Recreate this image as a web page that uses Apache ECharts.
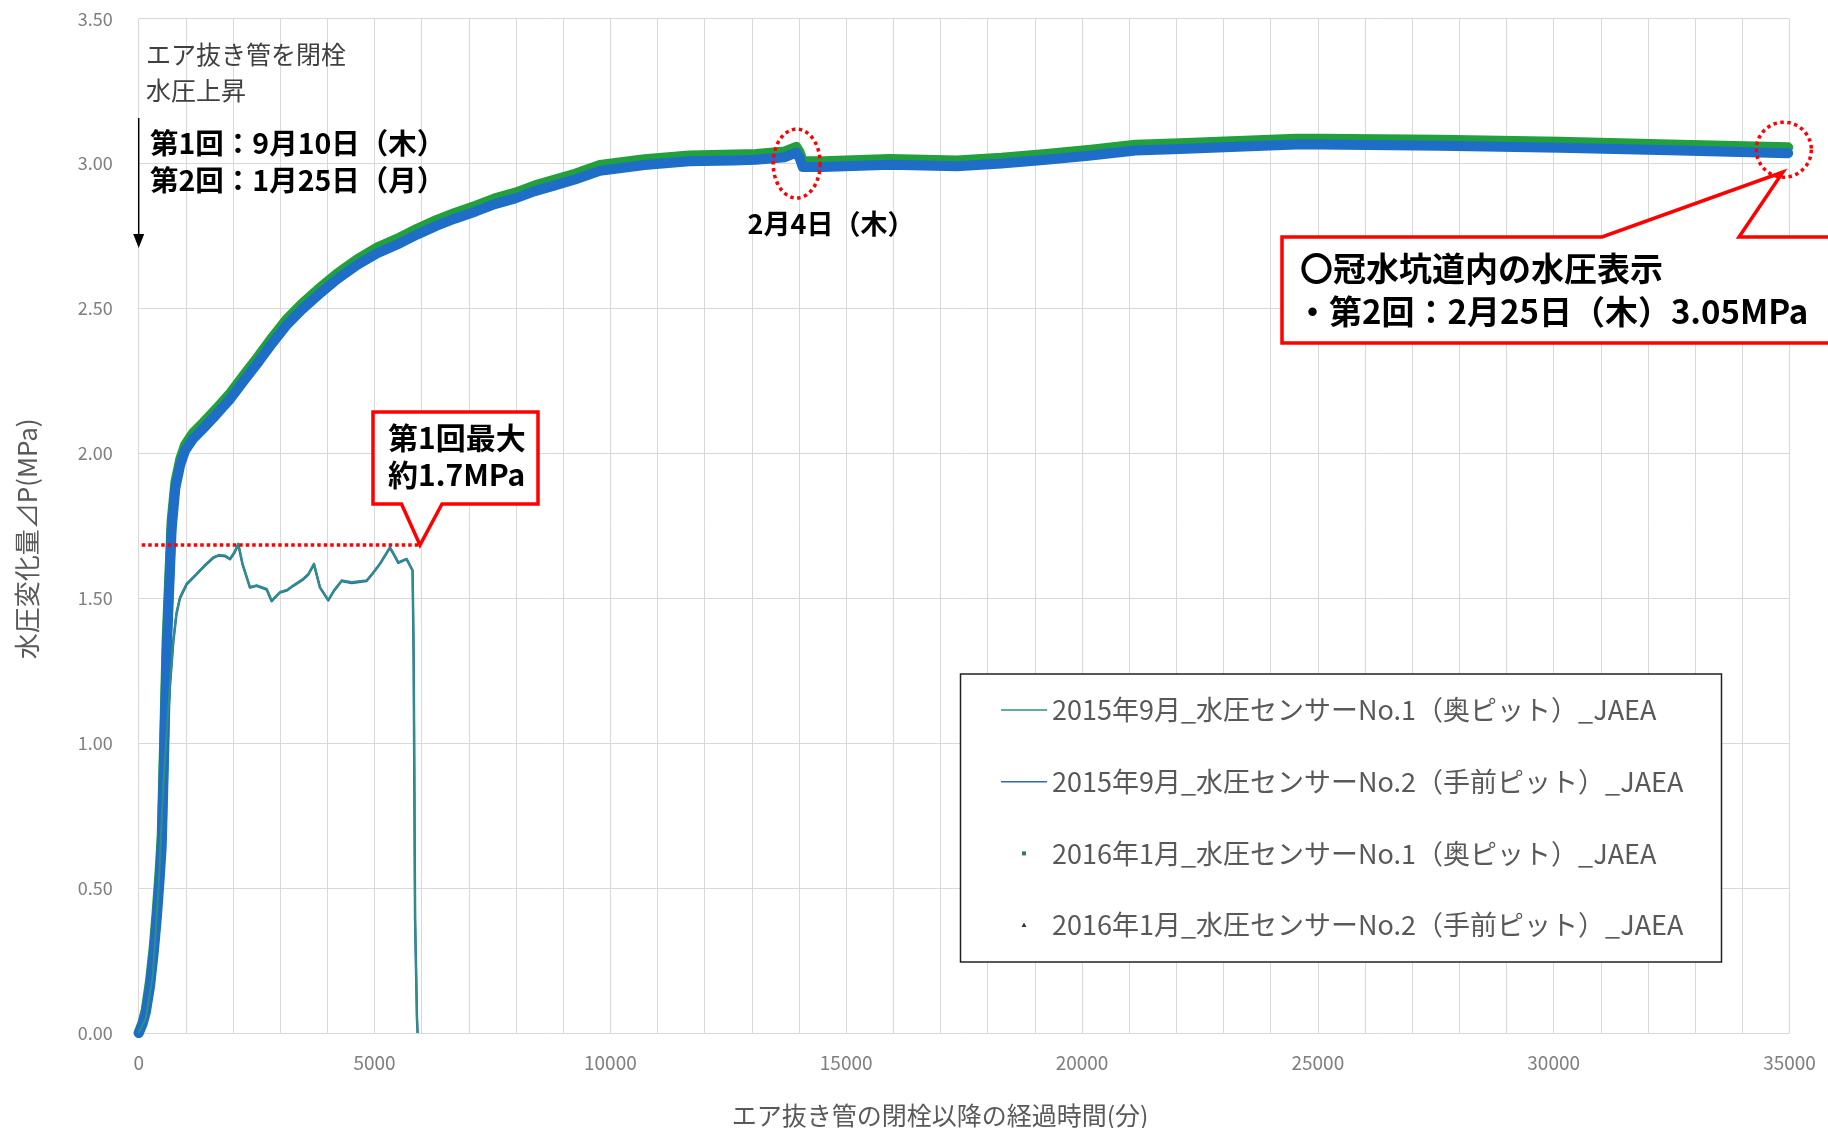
<!DOCTYPE html>
<html>
<head>
<meta charset="utf-8">
<script src="https://cdn.jsdelivr.net/npm/echarts@6.0.0/dist/echarts.min.js"></script>
<style>
  html, body { margin: 0; padding: 0; background: #fff; }
  #chart { width: 1828px; height: 1128px; }
</style>
</head>
<body>
<div id="chart"></div>
<script>
// 第1回 2015年9月 (分, MPa)
const sep2015Minutes = [0, 150, 300, 420, 520, 600, 660, 734, 800, 875, 1017, 1229, 1400, 1582, 1700, 1829, 1935, 2030, 2111, 2200, 2359, 2500, 2713, 2819, 2995, 3150, 3277, 3489, 3600, 3716, 3843, 4019, 4150, 4303, 4515, 4833, 4950, 5114, 5326, 5420, 5503, 5680, 5807, 5830, 5860, 5900, 5913]
const sep2015No1 = [0, 0.05, 0.2, 0.5, 0.85, 1.05, 1.2, 1.355, 1.45, 1.505, 1.551, 1.585, 1.615, 1.642, 1.65, 1.648, 1.637, 1.66, 1.689, 1.62, 1.539, 1.545, 1.533, 1.493, 1.522, 1.53, 1.545, 1.568, 1.585, 1.62, 1.539, 1.495, 1.53, 1.562, 1.556, 1.562, 1.585, 1.62, 1.677, 1.65, 1.625, 1.637, 1.597, 1.3, 0.4, 0.05, 0]
const sep2015No2 = [0, 0.05, 0.21, 0.5, 0.84, 1.04, 1.19, 1.35, 1.445, 1.5, 1.548, 1.583, 1.612, 1.64, 1.648, 1.645, 1.635, 1.657, 1.686, 1.618, 1.537, 1.543, 1.53, 1.49, 1.52, 1.528, 1.543, 1.565, 1.583, 1.617, 1.537, 1.493, 1.528, 1.56, 1.553, 1.56, 1.583, 1.618, 1.674, 1.648, 1.622, 1.635, 1.595, 1.29, 0.39, 0.05, 0]

// 第2回 2016年1月 (分, MPa)
const jan2016Minutes = [0, 80, 150, 240, 320, 381, 440, 487, 522, 557, 593, 649, 699, 777, 880, 985, 1150, 1363, 1650, 1950, 2250, 2537, 2830, 3122, 3450, 3794, 4200, 4631, 5050, 5471, 5900, 6308, 6700, 7147, 7550, 7985, 8400, 8824, 9250, 9777, 10723, 11670, 12618, 13090, 13700, 13940, 14010, 14080, 14508, 15928, 17346, 18294, 19240, 20185, 21132, 22079, 23026, 24538, 25038, 27588, 30133, 32681, 34972]
const jan2016No1 = [0, 0.035, 0.08, 0.18, 0.3, 0.42, 0.55, 0.68, 0.9, 1.13, 1.36, 1.58, 1.77, 1.9, 1.98, 2.03, 2.07, 2.105, 2.155, 2.21, 2.275, 2.335, 2.4, 2.46, 2.515, 2.565, 2.62, 2.67, 2.71, 2.74, 2.775, 2.805, 2.83, 2.855, 2.88, 2.9, 2.925, 2.945, 2.965, 2.995, 3.015, 3.028, 3.031, 3.033, 3.042, 3.058, 3.04, 3.008, 3.008, 3.016, 3.011, 3.02, 3.033, 3.048, 3.065, 3.07, 3.076, 3.086, 3.086, 3.082, 3.075, 3.065, 3.056]
const jan2016No2 = [0, 0.03, 0.07, 0.16, 0.28, 0.39, 0.52, 0.64, 0.85, 1.08, 1.31, 1.54, 1.74, 1.88, 1.96, 2.01, 2.05, 2.085, 2.135, 2.19, 2.255, 2.315, 2.38, 2.44, 2.495, 2.545, 2.6, 2.65, 2.69, 2.72, 2.755, 2.785, 2.81, 2.835, 2.86, 2.88, 2.905, 2.925, 2.945, 2.975, 2.995, 3.008, 3.011, 3.013, 3.022, 3.038, 3.02, 2.988, 2.988, 2.996, 2.991, 3.0, 3.013, 3.028, 3.045, 3.05, 3.056, 3.066, 3.066, 3.062, 3.055, 3.045, 3.036]

const seriesNames = [
  '2015年9月_水圧センサーNo.1（奥ピット）_JAEA',
  '2015年9月_水圧センサーNo.2（手前ピット）_JAEA',
  '2016年1月_水圧センサーNo.1（奥ピット）_JAEA',
  '2016年1月_水圧センサーNo.2（手前ピット）_JAEA'
]
const xMax = 35000
const xStep = 5000
const yMax = 3.5
const yStep = 0.5
const firstMaxMpa = 1.685
const firstMaxRange = [64, 5962]
const dipMark = [13950, 3.0]
const endMark = [34880, 3.048]

const FONT = '"Noto Sans CJK JP", "Noto Sans", sans-serif'
const RED = '#FF0000'
const C15_1 = '#2E8F88'
const C15_2 = '#2F6DA8'
const C16_1 = '#22A03E'
const C16_2 = '#1E6EC8'

function pairs(xs, ys) {
  return xs.map((x, i) => [x, ys[i]])
}

const chart = echarts.init(document.getElementById('chart'), null, { renderer: 'canvas' })

function band(name, xs, ys, color) {
  return {
    name, type: 'line', data: pairs(xs, ys), showSymbol: false, symbol: 'none', z: 2,
    lineStyle: { color, width: 10, join: 'round', cap: 'round' },
    itemStyle: { color }
  }
}

function thin(name, xs, ys, color, width, z) {
  return {
    name, type: 'line', data: pairs(xs, ys), showSymbol: false, symbol: 'none', z,
    lineStyle: { color, width, join: 'round' },
    itemStyle: { color }
  }
}

const s15a = thin(seriesNames[0], sep2015Minutes, sep2015No1, C15_1, 2, 4)
s15a.markLine = {
  silent: true, symbol: 'none', animation: false,
  label: { show: false },
  lineStyle: { color: RED, width: 3.5, type: [3.5, 3] },
  data: [[{ coord: [firstMaxRange[0], firstMaxMpa] }, { coord: [firstMaxRange[1], firstMaxMpa] }]]
}

chart.setOption({
  animation: false,
  backgroundColor: '#fff',
  grid: { left: 138.7, right: 38.5, top: 18.7, bottom: 95, outerBoundsMode: 'none', containLabel: false },
  xAxis: {
    type: 'value', min: 0, max: xMax, interval: xStep,
    name: 'エア抜き管の閉栓以降の経過時間(分)',
    nameLocation: 'middle', nameGap: 70,
    nameTextStyle: { fontSize: 25, color: '#595959', fontFamily: FONT, padding: [0, 48, 0, 0] },
    axisLine: { show: false },
    axisTick: { show: false },
    axisLabel: { fontSize: 19, color: '#7F7F7F', fontFamily: FONT, margin: 20, formatter: v => String(v) },
    splitLine: { show: true, lineStyle: { color: '#D9D9D9', width: 1 } },
    minorTick: { show: false, splitNumber: 5 },
    minorSplitLine: { show: true, lineStyle: { color: '#D9D9D9', width: 1 } }
  },
  yAxis: {
    type: 'value', min: 0, max: yMax, interval: yStep,
    name: '水圧変化量⊿P(MPa)',
    nameLocation: 'middle', nameGap: 99, nameRotate: 90,
    nameTextStyle: { fontSize: 26, color: '#595959', fontFamily: FONT, padding: [0, 26, 0, 0] },
    axisLine: { show: false },
    axisTick: { show: false },
    axisLabel: { fontSize: 18, color: '#7F7F7F', fontFamily: FONT, margin: 26, formatter: v => v.toFixed(2) },
    splitLine: { show: true, lineStyle: { color: '#D9D9D9', width: 1 } }
  },
  legend: {
    orient: 'vertical', left: 1001, top: 695, padding: 0,
    itemGap: 41.7, itemWidth: 46, itemHeight: 14, z: 20,
    selectedMode: false,
    textStyle: { fontSize: 27, lineHeight: 30, color: '#595959', fontFamily: FONT },
    data: [
      { name: seriesNames[0], icon: 'path://M0,0M46,14M0,6.2h46v1.6h-46z', itemStyle: { color: C15_1, borderWidth: 0 } },
      { name: seriesNames[1], icon: 'path://M0,0M46,14M0,6.2h46v1.6h-46z', itemStyle: { color: C15_2, borderWidth: 0 } },
      { name: seriesNames[2], icon: 'path://M0,0M46,14M21,5h4v4h-4z', itemStyle: { color: '#2E7D5A', borderWidth: 0 } },
      { name: seriesNames[3], icon: 'path://M0,0M46,14M23,4.5L25.5,9h-5z', itemStyle: { color: '#333', borderWidth: 0 } }
    ]
  },
  series: [
    s15a,
    thin(seriesNames[1], sep2015Minutes, sep2015No2, C15_2, 2.5, 3),
    band(seriesNames[2], jan2016Minutes, jan2016No1, C16_1),
    band(seriesNames[3], jan2016Minutes, jan2016No2, C16_2)
  ]
})

// annotation overlays
function ellipsePoints(cx, cy, rx, ry) {
  const pts = []
  for (let i = 0; i < 72; i++) {
    const a = i / 72 * Math.PI * 2
    pts.push([cx + rx * Math.cos(a), cy + ry * Math.sin(a)])
  }
  return pts
}

function label(text, x, y, size, opts) {
  return {
    type: 'text', x, y, z: 110,
    style: Object.assign({
      text, fontSize: size, fontWeight: 'bold', fontFamily: FONT,
      fill: '#000', align: 'left', verticalAlign: 'middle'
    }, opts || {})
  }
}

const dip = chart.convertToPixel({ xAxisIndex: 0, yAxisIndex: 0 }, dipMark)
const end = chart.convertToPixel({ xAxisIndex: 0, yAxisIndex: 0 }, endMark)
const dotted = { stroke: RED, lineWidth: 3.5, lineDash: [3.5, 3.5], fill: null }

chart.setOption({
  graphic: [
    // legend frame
    { type: 'rect', z: 15, shape: { x: 960.5, y: 674, width: 761, height: 288 },
      style: { fill: '#fff', stroke: '#222', lineWidth: 1.5 } },
    // top-left note
    label('エア抜き管を閉栓', 146, 54, 25, { fontWeight: 'normal', fill: '#404040' }),
    label('水圧上昇', 146, 90, 25, { fontWeight: 'normal', fill: '#404040' }),
    { type: 'line', z: 110, shape: { x1: 138.7, y1: 118, x2: 138.7, y2: 236 }, style: { stroke: '#000', lineWidth: 1.5 } },
    { type: 'polygon', z: 110, shape: { points: [[133.2, 234], [144.2, 234], [138.7, 248]] }, style: { fill: '#000' } },
    label('第1回：9月10日（木）', 150, 143.5, 28.5),
    label('第2回：1月25日（月）', 150, 180, 28.5),
    // 2月4日 dip
    { type: 'polygon', z: 110, shape: { points: ellipsePoints(dip[0], dip[1], 23.5, 34.5) }, style: dotted },
    label('2月4日（木）', 831, 224, 27, { align: 'center' }),
    // end-point callout
    { type: 'polygon', z: 110, shape: { points: ellipsePoints(end[0], end[1], 27.5, 27.5) }, style: dotted },
    { type: 'polygon', z: 108, shape: { points: [[1282, 237], [1602, 237], [1783, 172], [1739, 237], [1845, 237], [1845, 343], [1282, 343]] },
      style: { fill: '#fff', stroke: RED, lineWidth: 3.5, lineJoin: 'miter' } },
    label('〇冠水坑道内の水圧表示', 1300, 268, 33),
    label('・第2回：2月25日（木）3.05MPa', 1296, 311, 33),
    // first max callout
    { type: 'polygon', z: 108, shape: { points: [[373, 412], [538, 412], [538, 504], [442, 504], [420, 545], [401.5, 504], [373, 504]] },
      style: { fill: '#fff', stroke: RED, lineWidth: 3.5, lineJoin: 'miter' } },
    label('第1回最大', 388, 437.5, 30),
    label('約1.7MPa', 388, 475, 30)
  ]
})
</script>
</body>
</html>
